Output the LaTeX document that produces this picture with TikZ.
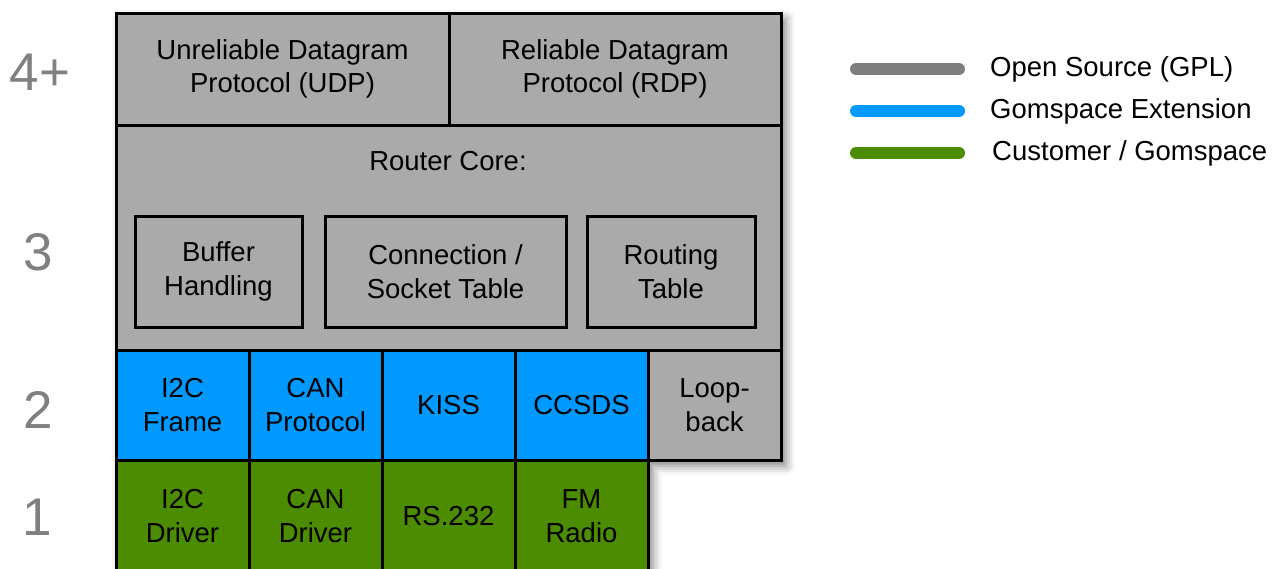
\documentclass[tikz,border=0pt]{standalone}
\usepackage{fontspec}
\setmainfont{Liberation Sans}
\usetikzlibrary{shadows.blur}

\begin{document}
\begin{tikzpicture}[x=1pt, y=-1pt,
  capa/.style={rectangle, draw=black, line width=3pt, outer sep=0pt, inner sep=0pt,
    anchor=north west, align=center, font=\fontsize{27.5}{33.5}\selectfont},
  nivel/.style={text=gris_nivel, inner sep=0pt, font=\fontsize{53}{60}\selectfont},
  leyenda/.style={anchor=west, inner sep=0pt, font=\fontsize{27.5}{33}\selectfont},
  linea/.style={line width=12pt, line cap=round}]

    \definecolor{gris_capa}{HTML}{AAAAAA}
    \definecolor{azul_capa}{HTML}{0099FF}
    \definecolor{verde_capa}{HTML}{4B8C00}
    \definecolor{gris_ley}{HTML}{7F7F7F}
    \definecolor{gris_nivel}{HTML}{808080}

  \useasboundingbox (0,0) rectangle (1276,568);

  % Shadow under the whole stack

  \path[fill=white, blur shadow={shadow xshift=5pt, shadow yshift=-6pt,
      shadow blur radius=9pt, shadow opacity=50}]
    (116,13) -- (781,13) -- (781,460) -- (648,460) -- (648,600) -- (116,600) -- cycle;

  % Layer 4+: transport protocols

  \node[capa, fill=gris_capa, minimum width=333pt, minimum height=112pt] (udp) at (116,13)
    {Unreliable Datagram\\Protocol (UDP)};
  \node[capa, fill=gris_capa, minimum width=332pt, minimum height=112pt] (rdp) at (449,13)
    {Reliable Datagram\\Protocol (RDP)};

  % Layer 3: router core and its parts

  \node[capa, fill=gris_capa, minimum width=665pt, minimum height=225pt] (core) at (116,125) {};
  \node[font=\fontsize{27.5}{33}\selectfont] (corelabel) at (448,161) {Router Core:};
  \node[capa, minimum width=167pt, minimum height=111pt] (buffer) at (135,216) {Buffer\\Handling};
  \node[capa, minimum width=241pt, minimum height=111pt] (conn) at (325,216) {Connection /\\Socket Table};
  \node[capa, minimum width=168pt, minimum height=111pt] (routing) at (587,216) {Routing\\Table};

  % Layer 2: interfaces

  \node[capa, fill=azul_capa, minimum width=133pt, minimum height=110pt] (i2cframe) at (116,350) {I2C\\Frame};
  \node[capa, fill=azul_capa, minimum width=133pt, minimum height=110pt] (canproto) at (249,350) {CAN\\Protocol};
  \node[capa, fill=azul_capa, minimum width=133pt, minimum height=110pt] (kiss) at (382,350) {KISS};
  \node[capa, fill=azul_capa, minimum width=133pt, minimum height=110pt] (ccsds) at (515,350) {CCSDS};
  \node[capa, fill=gris_capa, minimum width=133pt, minimum height=110pt] (loop) at (648,350) {Loop-\\back};

  % Layer 1: drivers

  \node[capa, fill=verde_capa, minimum width=133pt, minimum height=112pt] (i2cdrv) at (116,460) {I2C\\Driver};
  \node[capa, fill=verde_capa, minimum width=133pt, minimum height=112pt] (candrv) at (249,460) {CAN\\Driver};
  \node[capa, fill=verde_capa, minimum width=133pt, minimum height=112pt] (rs) at (382,460) {RS.232};
  \node[capa, fill=verde_capa, minimum width=133pt, minimum height=112pt] (fm) at (515,460) {FM\\Radio};

  % Layer numbers

  \node[nivel] (n4) at (40,72) {4+};
  \node[nivel] (n3) at (38,252) {3};
  \node[nivel] (n2) at (38,410) {2};
  \node[nivel] (n1) at (37,517) {1};

  % Legend

  \node[leyenda] (gpl) at (990,69) {Open Source (GPL)};
  \node[leyenda] (ext) at (990,111) {Gomspace Extension};
  \node[leyenda] (cust) at (992,153) {Customer / Gomspace};

  \draw[linea, gris_ley] ([xshift=-31pt]gpl.west) -- ++(-103,0);
  \draw[linea, azul_capa] ([xshift=-31pt]ext.west) -- ++(-103,0);
  \draw[linea, verde_capa] ([xshift=-33pt]cust.west) -- ++(-103,0);

\end{tikzpicture}
\end{document}
